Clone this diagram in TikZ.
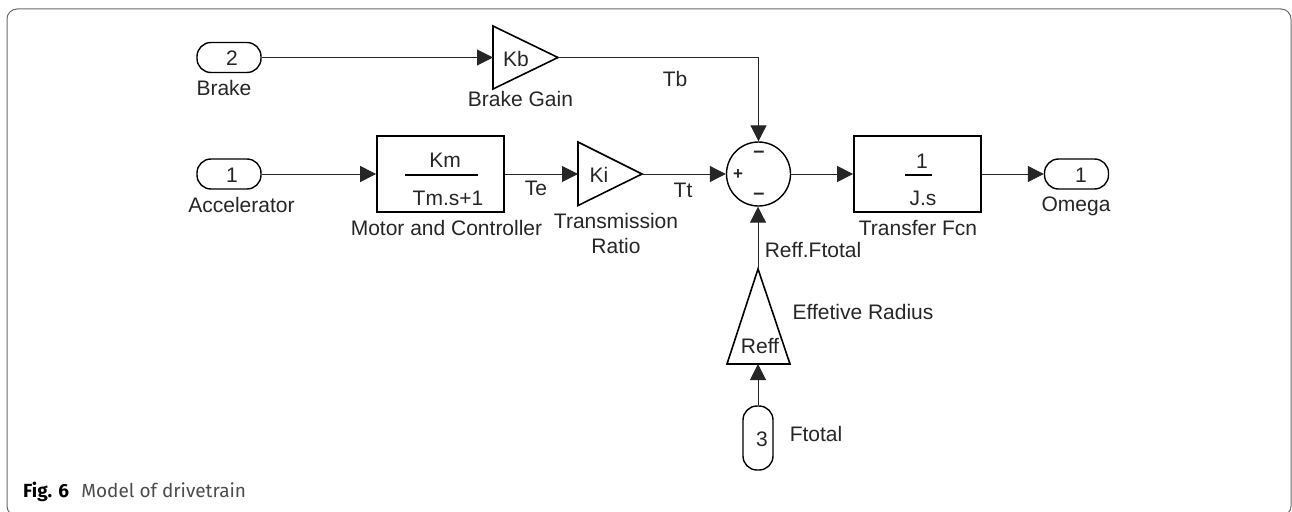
\documentclass[tikz,border=0pt]{standalone}
\usepackage{fontspec}
\setmainfont{Liberation Sans}
\newfontfamily\capfont{Fira Sans}
\usetikzlibrary{arrows.meta}
\definecolor{framegray}{gray}{0.42}
\definecolor{capgray}{gray}{0.3}
\tikzset{
  lbl/.style={inner sep=0pt,font=\fontsize{21}{25}\selectfont,align=center,text=black!85},
  blockbox/.style={draw=black,line width=1.8pt,inner sep=0pt,minimum width=127pt,minimum height=76pt},
  hport/.style={draw=black,line width=1.4pt,rounded corners=14pt,inner sep=0pt,minimum width=64pt,minimum height=30pt},
  vport/.style={draw=black,line width=1.4pt,rounded corners=14pt,inner sep=0pt,minimum width=30pt,minimum height=64pt},
  sumnode/.style={circle,draw=black,line width=1.4pt,inner sep=0pt,minimum size=64pt},
  gainshape/.style={draw=black,line width=1.6pt,line join=miter},
  conn/.style={draw=black!85,line width=1pt,-{Triangle[length=16pt,width=16pt]}},
  plainline/.style={draw=black!85,line width=1pt},
  fracbar/.style={draw=black,line width=1.3pt}
}
\begin{document}
\begin{tikzpicture}[x=1pt,y=-1pt]
\useasboundingbox (0,0) rectangle (1292,511);
\begin{scope}
\clip (0,0) rectangle (1292,511);
\draw[framegray,line width=1pt,rounded corners=10pt] (7,9) rectangle (1291,516);
\end{scope}
% ports and blocks
\node[hport] (brakein) at (229,57.5) {};
\node[hport] (accin) at (229,174) {};
\node[hport] (omegaout) at (1076.5,174) {};
\node[vport] (ftotal) at (758,438) {};
\node[blockbox] (motor) at (440.5,174) {};
\node[blockbox] (tf) at (917.5,174) {};
\node[sumnode] (sum) at (758.5,174) {};
% gain triangles
\coordinate (kbin) at (493,57.5);
\coordinate (kbout) at (558,57.5);
\coordinate (kiin) at (578,174);
\coordinate (kiout) at (642,174);
\coordinate (reffin) at (758,364);
\coordinate (reffout) at (758,269);
\coordinate (tbcorner) at (758.5,57.5);
\draw[gainshape] (kbin |- 0,26) -- (kbout) -- (kbin |- 0,89) -- cycle;
\draw[gainshape] (kiin |- 0,142) -- (kiout) -- (kiin |- 0,205.5) -- cycle;
\draw[gainshape] (reffout) -- (790,364) -- (727,364) -- cycle;
% connectors
\draw[conn] (brakein) -- (kbin);
\draw[conn] (kbout) -- (tbcorner) -- (sum);
\draw[conn] (accin) -- (motor);
\draw[conn] (motor) -- (kiin);
\draw[conn] (kiout) -- (sum);
\draw[conn] (sum) -- (tf);
\draw[conn] (tf) -- (omegaout);
\draw[conn] (reffout) -- (reffout |- sum.south);
\draw[conn] (ftotal) -- (reffin);
% fraction bars
\coordinate (kmbarl) at (405,175);
\coordinate (kmbarr) at (478,175);
\coordinate (jbarl) at (905,175);
\coordinate (jbarr) at (932,175);
\draw[fracbar] (kmbarl) -- (kmbarr);
\draw[fracbar] (jbarl) -- (jbarr);
% texts
\node[lbl] (t2) at (232,58.5) {2};
\node[lbl] (tbrake) at (224,88) {Brake};
\node[lbl] (tkb) at (516,59) {Kb};
\node[lbl] (tbg) at (520.5,99) {Brake Gain};
\node[lbl] (ttb) at (675,79) {Tb};
\node[lbl] (t1a) at (232,175) {1};
\node[lbl] (tacc) at (241.5,205) {Accelerator};
\node[lbl] (tkm) at (445,160) {Km};
\node[lbl] (ttm) at (448,198) {Tm.s+1};
\node[lbl] (tmc) at (446.5,228) {Motor and Controller};
\node[lbl] (tte) at (536,188) {Te};
\node[lbl] (tki) at (599,175) {Ki};
\node[lbl] (ttr) at (616,233) {Transmission\\Ratio};
\node[lbl] (ttt) at (683,190) {Tt};
\node[lbl,font=\fontsize{17}{20}\selectfont\bfseries] (tplus) at (738,175) {+};
\node[lbl,font=\fontsize{20}{24}\selectfont\bfseries] (tm1) at (759,154) {–};
\node[lbl,font=\fontsize{20}{24}\selectfont\bfseries] (tm2) at (759,196) {–};
\node[lbl] (tone) at (922,161) {1};
\node[lbl] (tjs) at (923,198) {J.s};
\node[lbl] (ttf) at (918,228) {Transfer Fcn};
\node[lbl] (t1o) at (1081,175) {1};
\node[lbl] (tom) at (1076,206) {Omega};
\node[lbl] (trf) at (813,250) {Reff.Ftotal};
\node[lbl] (ter) at (863,312) {Effetive Radius};
\node[lbl] (tre) at (760,346) {Reff};
\node[lbl] (t3) at (762,439) {3};
\node[lbl] (tft) at (816,434) {Ftotal};
\node[anchor=base west,inner sep=0pt,font=\capfont\fontsize{19}{22}\selectfont,text=capgray] (cap) at (23,497) {\textbf{\textcolor{black}{Fig. 6}}\hspace{0.65em}Model of drivetrain};
\end{tikzpicture}
\end{document}
